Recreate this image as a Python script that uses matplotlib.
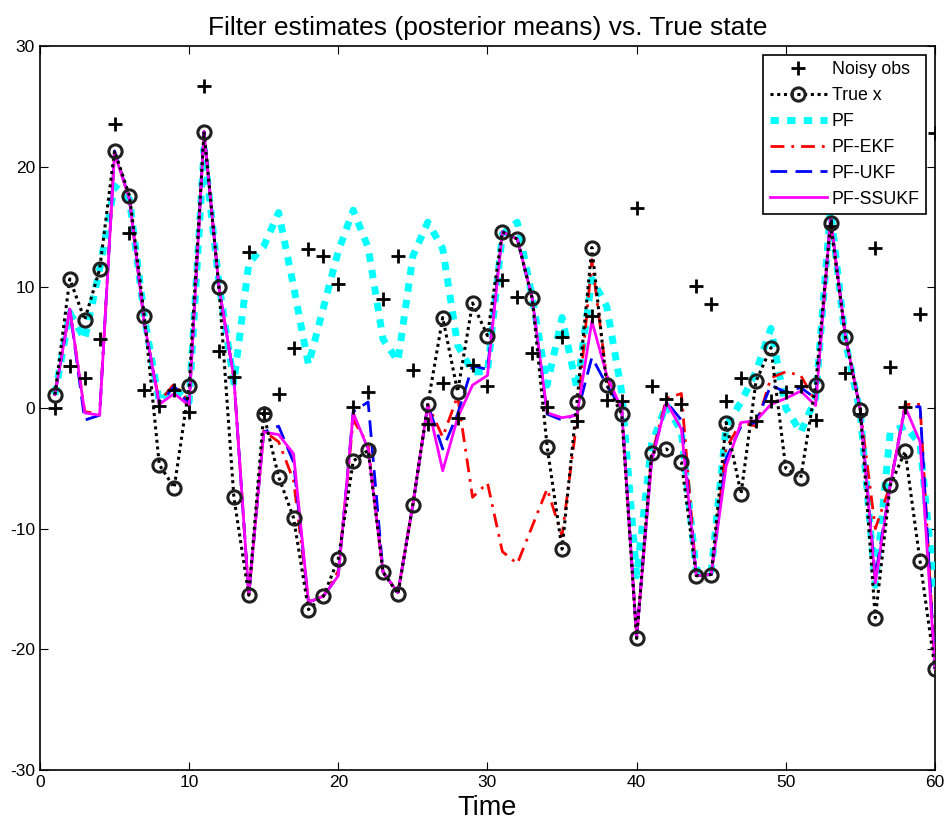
import numpy as np
import matplotlib
matplotlib.use("Agg")
import matplotlib.pyplot as plt

plt.rcParams['font.family'] = ['Liberation Sans', 'DejaVu Sans']
plt.rcParams['axes.unicode_minus'] = False

# time axis
t = list(range(1, 61))

# noisy observations
obs = [0.0, 3.5, 2.5, 5.7, 23.5, 14.5, 1.5, 0.2, 1.5, -0.3,
       26.7, 4.7, 2.6, 12.9, -0.4, 1.2, 5.0, 13.2, 12.6, 10.3,
       0.1, 1.35, 9.0, 12.6, 3.15, -1.3, 2.1, -0.8, 3.6, 1.8,
       10.6, 9.2, 4.6, 0.1, 5.9, -1.1, 7.6, 0.7, 0.6, 16.6,
       1.8, 0.75, 0.3, 10.1, 8.6, 0.6, 2.5, -1.1, 0.6, 1.3,
       1.8, -1.0, 15.1, 2.9, -0.5, 13.3, 3.4, 0.1, 7.8, 22.8]

# true state
true_x = [1.1, 10.7, 7.3, 11.5, 21.3, 17.6, 7.6, -4.7, -6.6, 1.8,
          22.9, 10.0, -7.4, -15.5, -0.5, -5.7, -9.1, -16.7, -15.6, -12.5,
          -4.4, -3.5, -13.6, -15.4, -8.0, 0.3, 7.5, 1.35, 8.7, 6.0,
          14.6, 14.0, 9.1, -3.2, -11.7, 0.5, 13.3, 1.9, -0.5, -19.1,
          -3.7, -3.4, -4.5, -13.9, -13.8, -1.2, -7.1, 2.2, 5.0, -5.0,
          -5.8, 1.9, 15.3, 5.9, -0.2, -17.4, -6.4, -3.6, -12.7, -21.6]

# filter estimates
pf = [1.1, 7.9, 5.7, 11.5, 18.4, 17.3, 7.5, 0.5, 1.6, 0.5,
      21.5, 10.3, 2.1, 12.0, 13.4, 16.2, 10.1, 3.6, 8.3, 13.0,
      16.4, 13.3, 5.7, 3.9, 12.6, 15.4, 13.2, 5.2, 3.0, 3.0,
      14.4, 15.4, 9.2, 1.9, 7.5, 1.6, 10.7, 8.4, 1.3, -13.9,
      -3.0, 0.3, -2.0, -13.5, -13.5, -1.5, 0.5, 3.0, 6.6, 0.0,
      -2.0, 0.8, 16.5, 5.5, -0.5, -14.7, -2.0, -1.5, -3.0, -15.5]

pf_ekf = [1.1, 8.2, -0.3, -0.5, 21.3, 17.3, 7.0, 0.5, 2.0, 0.5,
          22.9, 10.0, 2.5, -15.5, -1.9, -2.8, -6.0, -16.0, -15.6, -13.5,
          -1.0, -3.0, -13.6, -15.3, -8.0, 0.3, -2.4, 1.0, -7.4, -6.2,
          -11.9, -12.9, -9.8, -6.7, -10.6, -1.0, 12.3, 2.4, -0.1, -19.0,
          -4.0, 0.8, 1.2, -13.9, -13.8, -3.3, -1.2, -1.5, 2.5, 3.0,
          2.7, 0.5, 15.5, 5.9, -0.2, -10.0, -6.4, 0.3, 0.3, -21.6]

pf_ukf = [1.1, 8.2, -1.0, -0.6, 21.3, 17.3, 7.0, 0.3, 1.8, 0.3,
          22.9, 10.0, 2.5, -15.5, -2.0, -1.5, -4.5, -16.1, -15.6, -13.9,
          -0.3, 0.5, -13.6, -15.3, -8.0, 0.3, -3.4, -0.5, 3.5, 3.2,
          14.6, 14.0, 9.1, -0.5, -1.0, -0.5, 4.2, 1.9, -0.1, -19.0,
          -4.3, 0.5, -1.0, -13.9, -13.8, -4.2, -1.5, -1.2, 1.9, 1.3,
          1.7, 0.8, 15.8, 5.9, -0.2, -14.0, -6.4, 0.1, 0.1, -21.6]

pf_ssukf = [1.1, 8.2, -0.4, -0.6, 21.1, 17.3, 7.0, 0.3, 1.2, 0.2,
            22.9, 10.0, 2.5, -15.5, -2.0, -2.2, -3.8, -16.1, -15.6, -13.9,
            -0.4, -3.4, -13.6, -15.3, -8.0, 0.3, -5.2, -0.8, 1.9, 2.7,
            14.6, 14.0, 9.1, -0.4, -0.8, -0.6, 7.2, 2.7, -0.1, -19.0,
            -4.5, 0.5, -1.75, -13.9, -13.8, -4.8, -1.2, -1.05, 0.3, 0.8,
            1.4, 0.2, 15.8, 5.9, -0.2, -14.5, -6.4, 0.1, -2.8, -21.6]

fig = plt.figure(figsize=(9.47, 8.31), dpi=100)
ax = fig.add_axes([0.0422, 0.0734, 0.9451, 0.8712])

ax.plot(t, obs, 'k+', ms=10, mew=2, label='Noisy obs', zorder=6)
ax.plot(t, true_x, color='k', ls=(0, (1, 1.2)), lw=2.2, marker='o', ms=9.5,
        mfc='none', mec='#202020', mew=2.2, label='True x', zorder=7)
ax.plot(t, pf, color='cyan', ls=(0, (1.2, 1.2)), lw=5, label='PF',
        solid_capstyle='butt', zorder=3)
ax.plot(t, pf_ekf, color='red', ls=(0, (5, 2.5, 1, 2.5)), lw=2, label='PF-EKF', zorder=4)
ax.plot(t, pf_ukf, color='blue', ls=(0, (6, 3)), lw=2, label='PF-UKF', zorder=4)
ax.plot(t, pf_ssukf, color='magenta', lw=2, label='PF-SSUKF', zorder=5)

ax.set_xlim(0, 60)
ax.set_ylim(-30, 30)
ax.set_xticks(range(0, 61, 10))
ax.set_yticks(range(-30, 31, 10))
ax.tick_params(direction='in', top=True, right=True, length=6, labelsize=12.5)
for s in ax.spines.values():
    s.set_linewidth(1.2)

ax.set_title('Filter estimates (posterior means) vs. True state', fontsize=19, pad=8)
ax.set_xlabel('Time', fontsize=19.5, labelpad=4)

leg = ax.legend(loc='upper right', fontsize=12.8, handlelength=3.2,
                fancybox=False, framealpha=1, edgecolor='k',
                borderaxespad=0.5, labelspacing=0.5, handletextpad=0.3,
                borderpad=0.35)
leg.get_frame().set_linewidth(1.2)

fig.savefig('out.png', dpi=100)
